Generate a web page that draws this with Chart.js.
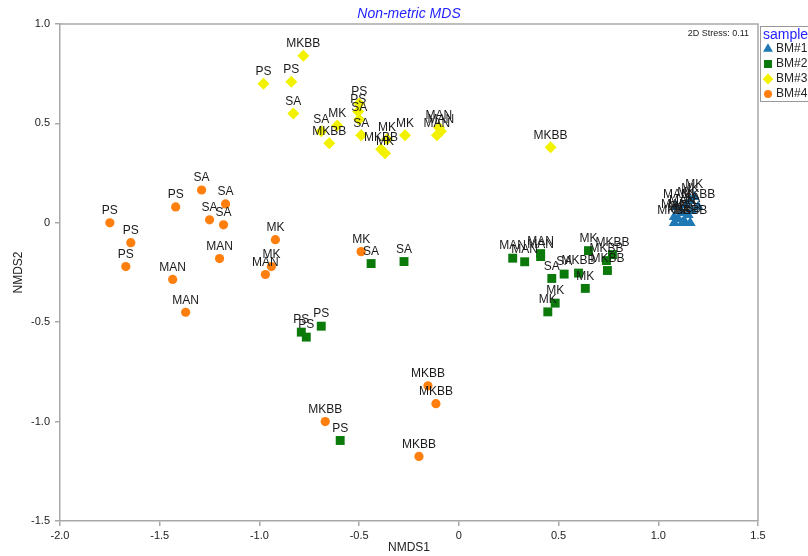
<!DOCTYPE html>
<html>
<head>
<meta charset="utf-8">
<script src="https://cdn.jsdelivr.net/npm/chart.js@4.4.1/dist/chart.umd.min.js"></script>
<style>
    html, body { margin: 0; padding: 0; background: #fff; }
    #wrap { width: 808px; height: 556px; }
</style>
</head>
<body>
<div id="wrap"><canvas id="nmds" width="808" height="556"></canvas></div>
<script>
// valores (NMDS1, NMDS2) por amostra
const bm1X = [1.18, 1.16, 1.14, 1.09, 1.12, 1.08, 1.13, 1.16, 1.10, 1.15, 1.12, 1.17, 1.20, 1.08];
const bm1Y = [0.13, 0.11, 0.09, 0.08, 0.05, 0.03, 0.01, 0.00, 0.02, 0.04, 0.00, 0.06, 0.08, 0.00];
const bm1Labels = ["MK", "MK", "MK", "MAN", "MAN", "MAN", "MKBB", "MKBB", "PS", "PS", "SA", "SA", "MKBB", "MKBB"];

const bm2X = [-0.44, -0.275, -0.69, -0.79, -0.765, -0.595, 0.27, 0.33, 0.41, 0.41, 0.466, 0.528, 0.60, 0.634, 0.483, 0.446, 0.65, 0.77, 0.74, 0.745];
const bm2Y = [-0.205, -0.195, -0.52, -0.55, -0.575, -1.095, -0.178, -0.196, -0.155, -0.17, -0.28, -0.258, -0.253, -0.33, -0.404, -0.448, -0.14, -0.16, -0.19, -0.24];
const bm2Labels = ["SA", "SA", "PS", "PS", "PS", "PS", "MAN", "MAN", "MAN", "MAN", "SA", "SA", "MKBB", "MK", "MK", "MK", "MK", "MKBB", "MKBB", "MKBB"];

const bm3X = [-0.98, -0.84, -0.78, -0.83, -0.69, -0.61, -0.65, -0.50, -0.505, -0.50, -0.49, -0.36, -0.39, -0.37, -0.27, -0.10, -0.09, -0.11, 0.46];
const bm3Y = [0.70, 0.71, 0.84, 0.55, 0.46, 0.49, 0.40, 0.60, 0.56, 0.52, 0.44, 0.42, 0.37, 0.35, 0.44, 0.48, 0.46, 0.44, 0.38];
const bm3Labels = ["PS", "PS", "MKBB", "SA", "SA", "MK", "MKBB", "PS", "PS", "SA", "SA", "MK", "MKBB", "MK", "MK", "MAN", "MAN", "MAN", "MKBB"];

const bm4X = [-1.75, -1.645, -1.67, -1.42, -1.29, -1.17, -1.25, -1.18, -1.20, -1.435, -1.37, -0.92, -0.94, -0.97, -0.49, -0.155, -0.115, -0.67, -0.20];
const bm4Y = [0.00, -0.10, -0.22, 0.08, 0.165, 0.095, 0.015, -0.01, -0.18, -0.285, -0.45, -0.085, -0.22, -0.26, -0.145, -0.82, -0.91, -1.00, -1.175];
const bm4Labels = ["PS", "PS", "PS", "PS", "SA", "SA", "SA", "SA", "MAN", "MAN", "MAN", "MK", "MK", "MAN", "MK", "MKBB", "MKBB", "MKBB", "MKBB"];

const sampleNames = ["BM#1", "BM#2", "BM#3", "BM#4"];
const sampleColors = ["#1f78b4", "#0b7a0b", "#f2f200", "#ff7f0e"];
const sampleShapes = ["triangle", "rect", "rectRot", "circle"];
const sampleRadius = [6.3, 6.3, 6, 4.6];
const xTicks = [-2.0, -1.5, -1.0, -0.5, 0, 0.5, 1.0, 1.5];
const yTicks = [-1.5, -1.0, -0.5, 0, 0.5, 1.0];

const groupX = [bm1X, bm2X, bm3X, bm4X];
const groupY = [bm1Y, bm2Y, bm3Y, bm4Y];
const groupLabels = [bm1Labels, bm2Labels, bm3Labels, bm4Labels];

Chart.defaults.font.family = "'Liberation Sans', Arial, sans-serif";
Chart.defaults.color = "#222";

function toPoints(xs, ys) {
    return xs.map((x, i) => ({ x: x, y: ys[i] }));
}

function tickText(value) {
    return value === 0 ? "0" : value.toFixed(1);
}

const datasets = sampleNames.map((name, i) => ({
    label: name,
    data: toPoints(groupX[i], groupY[i]),
    pointStyle: sampleShapes[i],
    pointRadius: sampleRadius[i],
    pointHoverRadius: sampleRadius[i],
    backgroundColor: sampleColors[i],
    borderColor: sampleColors[i],
    borderWidth: 0,
}));

// rótulos das amostras, moldura, título e legenda
const decorations = {
    id: "decorations",
    afterDatasetsDraw(chart) {
        const { ctx, chartArea } = chart;
        ctx.save();
        ctx.font = "12px 'Liberation Sans', Arial, sans-serif";
        ctx.fillStyle = "#1a1a1a";
        ctx.textAlign = "center";
        ctx.textBaseline = "bottom";
        chart.data.datasets.forEach((ds, i) => {
            const meta = chart.getDatasetMeta(i);
            meta.data.forEach((pt, j) => {
                ctx.fillText(groupLabels[i][j], pt.x, pt.y - 6);
            });
        });

        // moldura superior e direita
        ctx.strokeStyle = "#a8a8a8";
        ctx.lineWidth = 1.5;
        ctx.beginPath();
        ctx.moveTo(chartArea.left, chartArea.top);
        ctx.lineTo(chartArea.right, chartArea.top);
        ctx.lineTo(chartArea.right, chartArea.bottom);
        ctx.stroke();

        ctx.font = "9px 'Liberation Sans', Arial, sans-serif";
        ctx.fillStyle = "#222";
        ctx.textAlign = "right";
        ctx.textBaseline = "middle";
        ctx.fillText("2D Stress: 0.11", chartArea.right - 9, chartArea.top + 10);

        ctx.font = "italic 14px 'Liberation Sans', Arial, sans-serif";
        ctx.fillStyle = "#1f1fff";
        ctx.textAlign = "center";
        ctx.fillText("Non-metric MDS", (chartArea.left + chartArea.right) / 2, 14);

        // legenda
        const lx = chartArea.right + 2;
        ctx.strokeStyle = "#999";
        ctx.lineWidth = 1;
        ctx.strokeRect(lx + 0.5, 26.5, 80, 75);
        ctx.font = "14px 'Liberation Sans', Arial, sans-serif";
        ctx.fillStyle = "#1f1fff";
        ctx.textAlign = "left";
        ctx.fillText("sample", lx + 3, 35);
        ctx.font = "12px 'Liberation Sans', Arial, sans-serif";
        sampleNames.forEach((name, i) => {
            const y = 49 + i * 15;
            ctx.fillStyle = sampleColors[i];
            ctx.strokeStyle = sampleColors[i];
            Chart.helpers.drawPoint(ctx, {
                pointStyle: sampleShapes[i],
                radius: sampleRadius[i] - 0.6,
                borderWidth: 0,
                rotation: 0,
            }, lx + 8, y);
            ctx.fillStyle = "#222";
            ctx.fillText(name, lx + 16, y);
        });
        ctx.restore();
    },
};

new Chart(document.getElementById("nmds"), {
    type: "scatter",
    data: { datasets: datasets },
    options: {
        responsive: false,
        animation: false,
        devicePixelRatio: 1,
        layout: { padding: { top: 24, right: 50, left: 0, bottom: 0 } },
        plugins: {
            legend: { display: false },
            tooltip: { enabled: false },
        },
        scales: {
            x: {
                type: "linear",
                min: -2.0,
                max: 1.5,
                afterBuildTicks: (scale) => {
                    scale.ticks = xTicks.map((v) => ({ value: v }));
                },
                afterFit: (scale) => {
                    scale.height = 35;
                },
                ticks: {
                    callback: (v) => tickText(v),
                    font: { size: 11 },
                    color: "#222",
                    padding: 3,
                    maxRotation: 0,
                },
                grid: { drawOnChartArea: false, drawTicks: true, tickLength: 5, color: "#a8a8a8", lineWidth: 1.5 },
                border: { display: true, color: "#a8a8a8", width: 1.5 },
                title: { display: true, text: "NMDS1", font: { size: 12 }, color: "#222", padding: { top: 0, bottom: 1 } },
            },
            y: {
                type: "linear",
                min: -1.5,
                max: 1.0,
                afterBuildTicks: (scale) => {
                    scale.ticks = yTicks.map((v) => ({ value: v }));
                },
                afterFit: (scale) => {
                    scale.width = 60;
                },
                ticks: {
                    callback: (v) => tickText(v),
                    font: { size: 11 },
                    color: "#222",
                    padding: 5,
                },
                grid: { drawOnChartArea: false, drawTicks: true, tickLength: 5, color: "#a8a8a8", lineWidth: 1.5 },
                border: { display: true, color: "#a8a8a8", width: 1.5 },
                title: { display: true, text: "NMDS2", font: { size: 12 }, color: "#222", padding: { top: 11, bottom: 0 } },
            },
        },
    },
    plugins: [decorations],
});
</script>
</body>
</html>
